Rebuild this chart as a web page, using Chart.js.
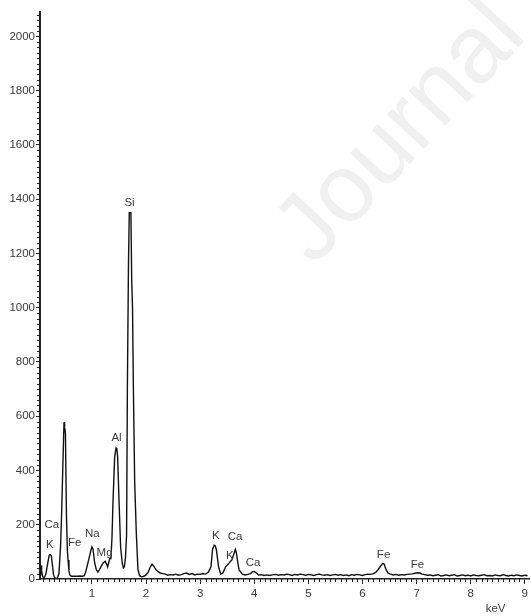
<!DOCTYPE html>
<html>
<head>
<meta charset="utf-8">
<script src="https://cdn.jsdelivr.net/npm/chart.js@4/dist/chart.umd.min.js"></script>
<style>
    html, body { margin: 0; padding: 0; background: #fff; }
    #wrap { position: relative; width: 531px; height: 616px; overflow: hidden; }
    #mark {
        position: absolute; left: 330px; top: 172px; line-height: 115px;
        font: 96px "Liberation Sans", Arial, sans-serif; color: #f0f0f0;
        transform-origin: 0 100%; transform: rotate(-47deg); white-space: nowrap;
    }
    canvas { position: absolute; left: 0; top: 0; }
</style>
</head>
<body>
<div id="wrap">
    <div id="mark">Journal</div>
    <canvas id="myChart" width="531" height="616"></canvas>
</div>
<script>
// Spectrum: energy (keV) and counts
const energyKeV = [
    0.05, 0.06, 0.07, 0.09, 0.12, 0.15, 0.18, 0.21, 0.23, 0.25, 0.27, 0.29, 0.31, 0.33, 0.36, 0.39,
    0.42, 0.44, 0.465, 0.484, 0.495, 0.51, 0.528, 0.545, 0.558, 0.575, 0.59, 0.62, 0.66, 0.70, 0.74, 0.78,
    0.82, 0.86, 0.89, 0.92, 0.95, 0.98, 1.00, 1.02, 1.05, 1.08, 1.11, 1.14, 1.18, 1.21, 1.245, 1.27,
    1.29, 1.31, 1.33, 1.35, 1.37, 1.39, 1.42, 1.445, 1.46, 1.475, 1.50, 1.53, 1.56, 1.58, 1.60, 1.62,
    1.64, 1.655, 1.675, 1.69, 1.72, 1.735, 1.75, 1.765, 1.79, 1.82, 1.85, 1.88, 1.92, 1.96, 2.00, 2.04,
    2.08, 2.11, 2.14, 2.18, 2.22, 2.26, 2.31, 2.36, 2.40, 2.45, 2.50, 2.55, 2.60, 2.65, 2.70, 2.75,
    2.80, 2.85, 2.90, 2.95, 3.00, 3.05, 3.10, 3.15, 3.20, 3.23, 3.26, 3.28, 3.30, 3.34, 3.38, 3.42,
    3.47, 3.52, 3.56, 3.585, 3.62, 3.65, 3.67, 3.70, 3.72, 3.78, 3.83, 3.88, 3.93, 3.97, 4.00, 4.04,
    4.08, 4.13, 4.18, 4.23, 4.28, 4.33, 4.40, 4.45, 4.50, 4.55, 4.60, 4.65, 4.70, 4.75, 4.80, 4.85,
    4.90, 4.95, 5.00, 5.05, 5.10, 5.15, 5.20, 5.25, 5.30, 5.35, 5.40, 5.45, 5.50, 5.55, 5.60, 5.65,
    5.70, 5.75, 5.80, 5.85, 5.90, 5.95, 6.00, 6.05, 6.10, 6.15, 6.20, 6.25, 6.29, 6.33, 6.37, 6.40,
    6.43, 6.47, 6.52, 6.57, 6.62, 6.67, 6.72, 6.77, 6.82, 6.87, 6.92, 6.97, 7.02, 7.06, 7.10, 7.15,
    7.20, 7.25, 7.30, 7.35, 7.40, 7.45, 7.50, 7.55, 7.60, 7.65, 7.70, 7.75, 7.80, 7.85, 7.90, 7.95,
    8.00, 8.05, 8.10, 8.15, 8.20, 8.25, 8.30, 8.35, 8.40, 8.45, 8.50, 8.55, 8.60, 8.65, 8.70, 8.75,
    8.80, 8.85, 8.90, 8.95, 9.00, 9.05
];
const counts = [
    10, 50, 30, 8, 5, 20, 55, 88, 90, 85, 50, 15, 5, 2, 3, 20,
    120, 243, 438, 578, 560, 538, 243, 110, 70, 30, 15, 10, 10, 10, 10, 11,
    10, 12, 30, 55, 80, 105, 118, 110, 60, 35, 25, 35, 50, 60, 65, 55,
    45, 60, 75, 75, 150, 291, 450, 483, 480, 450, 291, 118, 59, 41, 45, 80,
    160, 700, 1160, 1350, 1350, 1100, 1000, 715, 357, 170, 35, 12, 8, 10, 15, 25,
    45, 55, 48, 35, 28, 22, 20, 18, 14, 16, 15, 18, 14, 16, 20, 22,
    17, 20, 15, 18, 17, 20, 18, 25, 45, 110, 125, 122, 107, 45, 18, 22,
    45, 55, 65, 70, 90, 109, 96, 55, 33, 18, 15, 17, 20, 27, 28, 22,
    15, 16, 13, 15, 13, 15, 17, 14, 16, 15, 18, 16, 13, 17, 15, 18,
    16, 14, 17, 15, 13, 16, 18, 15, 14, 16, 13, 15, 17, 14, 16, 13,
    15, 12, 16, 14, 17, 15, 13, 16, 18, 17, 20, 25, 35, 46, 57, 55,
    38, 22, 18, 15, 17, 14, 16, 15, 17, 18, 19, 21, 23, 22, 18, 16,
    14, 15, 12, 14, 16, 11, 13, 15, 12, 14, 16, 11, 13, 15, 12, 14,
    11, 15, 13, 12, 14, 16, 12, 13, 11, 15, 13, 12, 16, 13, 11, 14,
    12, 15, 13, 11, 14, 12
];

// Peak labels: element and where its text sits (keV, counts)
const peakNames = ['Si', 'Al', 'Ca', 'K', 'Fe', 'Na', 'Mg', 'K', 'Ca', 'K', 'Ca', 'Fe', 'Fe'];
const peakKeV = [1.694, 1.455, 0.258, 0.221, 0.681, 1.007, 1.234, 3.29, 3.646, 3.549, 3.978, 6.39, 7.017];
const peakCounts = [1386, 520, 199, 125, 133, 166, 97, 158, 155, 85, 60, 88, 52];

// Axis ranges and ticks
const xMin = 0.04, xMax = 9.08, xMajor = 1, xMinor = 0.1;
const yMin = 0, yMax = 2090, yMajor = 200, yMinor = 20;
const xUnit = 'keV';
const xUnitAt = 8.46;

const tickFont = { family: '"Liberation Sans", Arial, sans-serif', size: 11.5 };
const inkColor = '#3a3a3a';

// Minor ticks on both axes, plus unit text and peak labels
const spectrumDecor = {
    id: 'spectrumDecor',
    afterDraw(chart) {
        const ctx = chart.ctx;
        const xs = chart.scales.x;
        const ys = chart.scales.y;
        const area = chart.chartArea;
        ctx.save();
        ctx.strokeStyle = '#222';
        ctx.lineWidth = 1;
        ctx.beginPath();
        const nY = Math.round((yMax - yMin) / yMinor);
        for (let i = 1; i <= nY; i++) {
            const v = yMin + i * yMinor;
            if (v % yMajor === 0 || v > yMax) continue;
            const py = Math.round(ys.getPixelForValue(v)) + 0.5;
            ctx.moveTo(area.left - 3, py);
            ctx.lineTo(area.left, py);
        }
        const nX = Math.round(xMax / xMinor);
        for (let i = 1; i <= nX; i++) {
            const v = i * xMinor;
            if (i % 10 === 0 || v < xMin || v > xMax) continue;
            const px = Math.round(xs.getPixelForValue(v)) + 0.5;
            ctx.moveTo(px, area.bottom);
            ctx.lineTo(px, area.bottom + 3);
        }
        ctx.stroke();

        ctx.font = tickFont.size + 'px ' + tickFont.family;
        ctx.fillStyle = inkColor;
        ctx.textAlign = 'center';
        ctx.textBaseline = 'middle';
        peakNames.forEach((name, i) => {
            ctx.fillText(name, xs.getPixelForValue(peakKeV[i]), ys.getPixelForValue(peakCounts[i]));
        });
        ctx.fillText(xUnit, xs.getPixelForValue(xUnitAt), area.bottom + 30);
        ctx.restore();
    }
};

const ctx = document.getElementById('myChart').getContext('2d');
new Chart(ctx, {
    type: 'line',
    data: {
        datasets: [{
            data: energyKeV.map((e, i) => ({ x: e, y: counts[i] })),
            borderColor: '#111',
            borderWidth: 1.4,
            pointRadius: 0,
            tension: 0,
            fill: false
        }]
    },
    options: {
        responsive: false,
        animation: false,
        devicePixelRatio: 1,
        layout: { padding: { top: 12, right: 0, left: 0, bottom: 0 } },
        plugins: { legend: { display: false }, tooltip: { enabled: false } },
        scales: {
            x: {
                type: 'linear',
                min: xMin,
                max: xMax,
                border: { color: '#222', width: 1.5 },
                grid: { drawOnChartArea: false, tickLength: 5, color: '#222' },
                ticks: {
                    stepSize: xMajor, includeBounds: false, maxRotation: 0,
                    font: tickFont, color: inkColor, padding: 3,
                    callback: value => String(value)
                },
                afterFit(scale) { scale.height = 37; }
            },
            y: {
                min: yMin,
                max: yMax,
                border: { color: '#222', width: 2 },
                grid: { drawOnChartArea: false, tickLength: 4, color: '#222' },
                ticks: {
                    stepSize: yMajor, includeBounds: false,
                    font: tickFont, color: inkColor, padding: 1,
                    callback: value => String(value)
                },
                afterFit(scale) { scale.width = 40; }
            }
        }
    },
    plugins: [spectrumDecor]
});
</script>
</body>
</html>
